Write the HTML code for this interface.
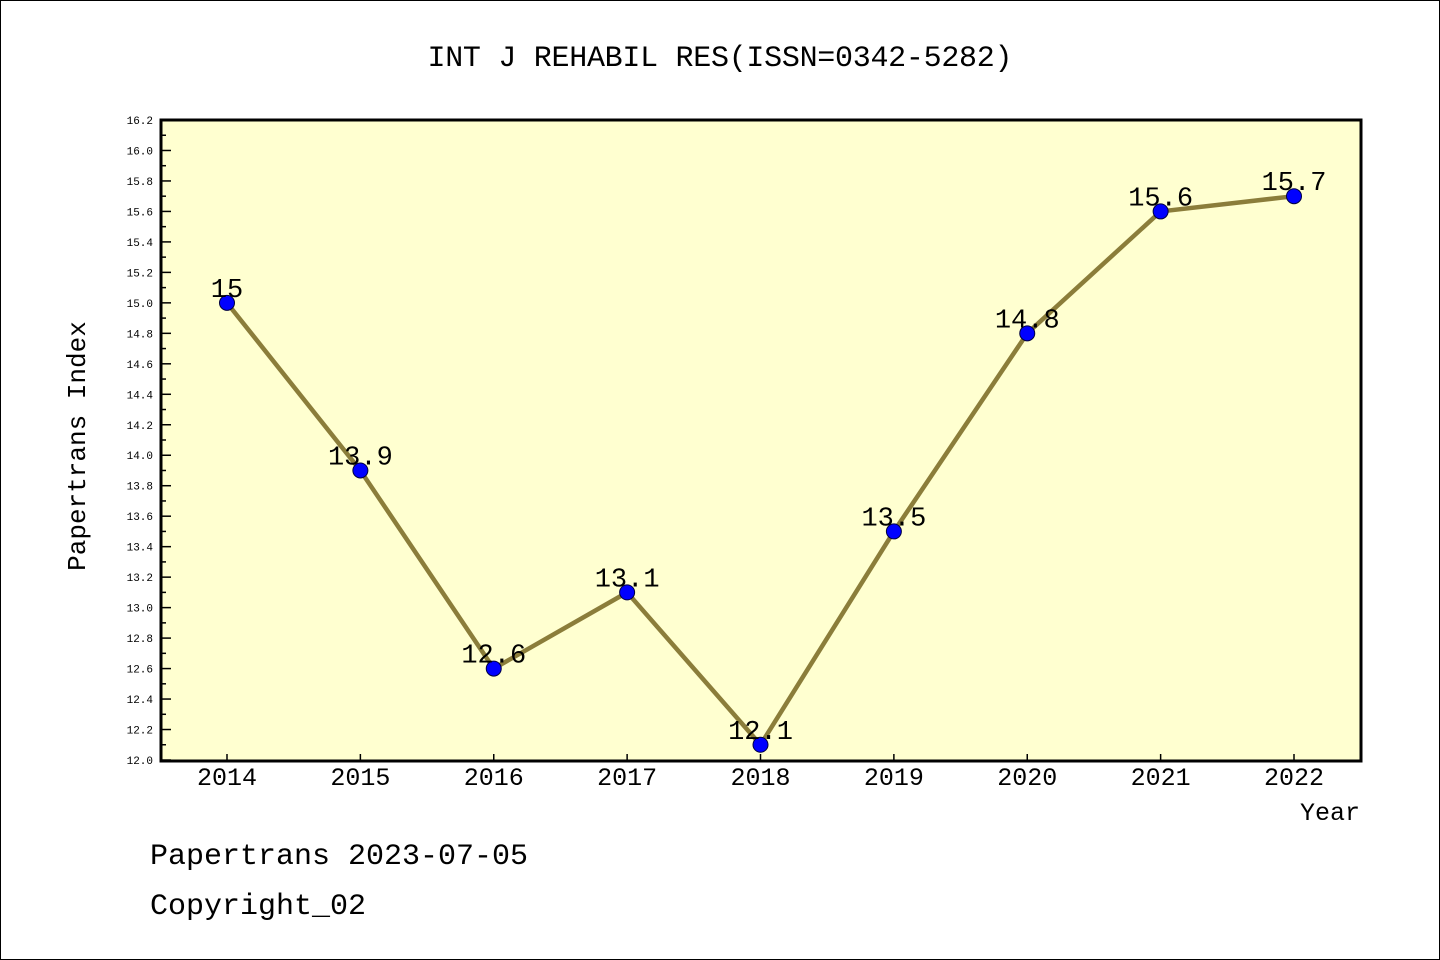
<!DOCTYPE html>
<html><head><meta charset="utf-8"><style>
html,body{margin:0;padding:0;background:#fff}
svg{display:block}
text{font-family:"Liberation Mono","WenQuanYi Zen Hei",monospace;fill:#000}
</style></head><body>
<svg id="chart" width="1440" height="960" viewBox="0 0 1440 960">
<rect x="0.5" y="0.5" width="1439" height="959" fill="#fff" stroke="#000" stroke-width="1"/>
<text x="720" y="66" text-anchor="middle" font-size="30" textLength="585">INT J REHABIL RES(ISSN=0342-5282)</text>
<rect x="161" y="120" width="1200" height="641" fill="#ffffd0"/>
<g id="yaxis"></g>
<g id="xaxis"></g>
<g id="series"></g>
<rect x="161" y="120" width="1200" height="641" fill="none" stroke="#000" stroke-width="3"/>
<text x="85" y="446" text-anchor="middle" font-size="26" transform="rotate(-90 85 446)">Papertrans Index</text>
<text x="1360" y="820" text-anchor="end" font-size="25">Year</text>
<text x="150" y="864" font-size="30">Papertrans 2023-07-05</text>
<text x="150" y="914" font-size="30">Copyright_02</text>
</svg>
<script>
const years = ["2014","2015","2016","2017","2018","2019","2020","2021","2022"];
const values = [15, 13.9, 12.6, 13.1, 12.1, 13.5, 14.8, 15.6, 15.7];
const valueLabels = ["15","13.9","12.6","13.1","12.1","13.5","14.8","15.6","15.7"];
const yMin = 12.0, yMax = 16.2, yStep = 0.2;

const NS = "http://www.w3.org/2000/svg";
const L = 161, R = 1361, T = 120, B = 760;
function yScale(v){ return B - (v - yMin) / (yMax - yMin) * (B - T); }
function xScale(i){ return 227 + i * (1294 - 227) / (years.length - 1); }
function mk(tag, attrs, parent){
  const e = document.createElementNS(NS, tag);
  for (const k in attrs) e.setAttribute(k, attrs[k]);
  parent.appendChild(e); return e;
}
const ya = document.getElementById('yaxis');
const nT = Math.round((yMax - yMin) / yStep);
for (let i = 0; i <= nT; i++) {
  const v = yMin + i * yStep, y = yScale(v);
  const t = mk('line', {x1: L, x2: L + 10, y1: y, y2: y, stroke: '#000', 'stroke-width': 1.5}, ya);
  
  
  if (i < nT) {
    const ym = yScale(v + yStep / 2);
    const m = mk('line', {x1: L, x2: L + 5, y1: ym, y2: ym, stroke: '#000', 'stroke-width': 1.5}, ya);
    
    
  }
  const lb = mk('text', {x: 153, y: y + 4, 'text-anchor': 'end', 'font-size': 11}, ya);
  lb.textContent = v.toFixed(1);
  
  
}
const xa = document.getElementById('xaxis');
years.forEach((yr, i) => {
  const x = xScale(i);
  const t = mk('line', {x1: x, x2: x, y1: B, y2: B - 6, stroke: '#000', 'stroke-width': 1.5}, xa);
  
  
  const lb = mk('text', {x: x, y: 785, 'text-anchor': 'middle', 'font-size': 25}, xa);
  lb.textContent = yr;
  
  
});
const sg = document.getElementById('series');
const pts = values.map((v, i) => xScale(i) + ',' + yScale(v)).join(' ');
const pl = mk('polyline', {points: pts, fill: 'none', stroke: '#8b7d3a', 'stroke-width': 4.5, 'stroke-linejoin': 'round'}, sg);


values.forEach((v, i) => {
  const c = mk('circle', {cx: xScale(i), cy: yScale(v), r: 7.5, fill: '#0000ff', stroke: '#000040', 'stroke-width': 1}, sg);
  
  
  const lb = mk('text', {x: xScale(i), y: yScale(v) - 6, 'text-anchor': 'middle', 'font-size': 27}, sg);
  lb.textContent = valueLabels[i];
  
  
});
</script>
</body></html>
